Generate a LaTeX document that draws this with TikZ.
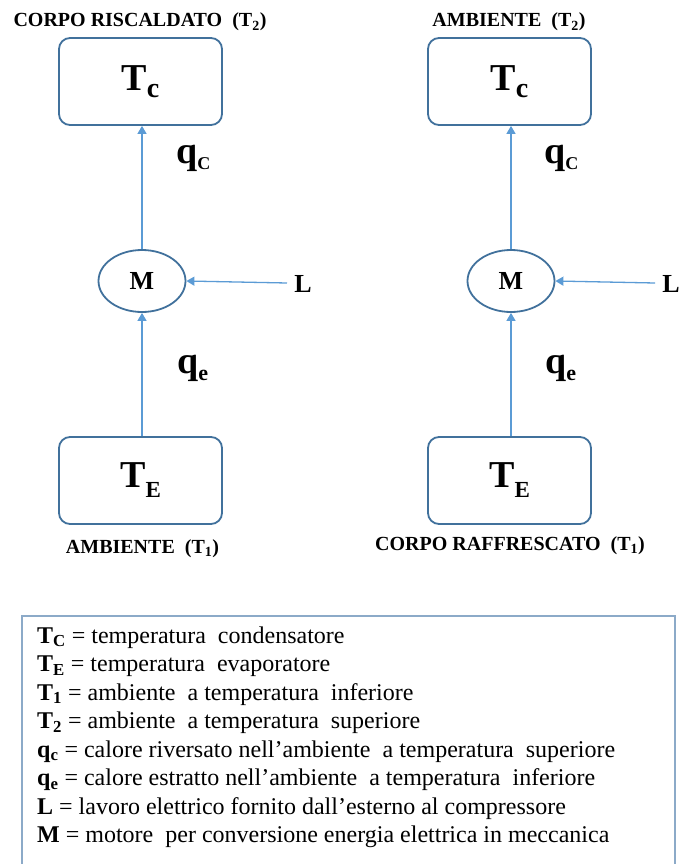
\documentclass[tikz,border=0pt]{standalone}
\usepackage{fontspec}
\setmainfont{Liberation Serif}
\usetikzlibrary{shapes.geometric,arrows.meta}
\definecolor{boxc}{RGB}{65,113,156}
\definecolor{arrc}{RGB}{91,155,213}
\definecolor{legc}{RGB}{140,170,200}
\tikzset{
 tbox/.style={draw=boxc, line width=1.8pt, rounded corners=11pt, minimum width=163pt, minimum height=87pt, inner sep=0pt, font=\fontsize{38}{40}\selectfont\bfseries},
 mell/.style={draw=boxc, line width=1.8pt, ellipse, minimum width=87pt, minimum height=62pt, inner sep=0pt, font=\fontsize{26}{28}\selectfont\bfseries},
 flow/.style={draw=arrc, line width=1.3pt, -{Triangle[length=8pt,width=9pt]}},
 ttl/.style={font=\fontsize{20}{22}\selectfont\bfseries, inner sep=0pt, anchor=base},
 qlab/.style={font=\fontsize{38}{40}\selectfont\bfseries, inner sep=0pt, anchor=base west},
 llab/.style={font=\fontsize{26}{28}\selectfont\bfseries, inner sep=0pt},
 leg/.style={font=\fontsize{24}{26}\selectfont, inner sep=0pt, anchor=base west},
}
\newcommand\lowsub[3]{\raisebox{-#1pt}{\fontsize{#2}{#2}\selectfont #3}}
\begin{document}
\begin{tikzpicture}[x=1pt,y=-1pt]
\useasboundingbox (0,0) rectangle (680,864);
\clip (0,0) rectangle (680,864);
% titles
\node[ttl] (t1) at (140,27) {CORPO RISCALDATO\ \ (T\textsubscript{2})};
\node[ttl] (t2) at (509,27) {AMBIENTE\ \ (T\textsubscript{2})};
\node[ttl] (b1) at (142.5,553) {AMBIENTE\ \ (T\textsubscript{1})};
\node[ttl] (b2) at (510,550) {CORPO RAFFRESCATO\ \ (T\textsubscript{1})};
% boxes
\node[tbox] (tc1) at (140.5,81.5) {T\lowsub{7}{28}{c}};
\node[tbox] (tc2) at (509.5,81.5) {T\lowsub{7}{28}{c}};
\node[tbox] (te1) at (140.5,480.5) {T\lowsub{10}{23}{E}};
\node[tbox] (te2) at (509.5,480.5) {T\lowsub{10}{23}{E}};
% motors
\node[mell] (m1) at (142,281) {M};
\node[mell] (m2) at (511,281) {M};
% L labels
\node[llab] (l1) at (303,283.5) {L};
\node[llab] (l2) at (671,283.5) {L};
\coordinate (ls1) at (287,283);
\coordinate (ls2) at (655,283);
% q labels
\node[qlab] (qc1) at (176,163) {q\lowsub{6}{18}{C}};
\node[qlab] (qc2) at (544,163) {q\lowsub{6}{18}{C}};
\node[qlab] (qe1) at (177,373) {q\lowsub{7}{22}{e}};
\node[qlab] (qe2) at (545,373) {q\lowsub{7}{22}{e}};
% arrows
\draw[flow] (m1.north) -- (m1.north |- tc1.south);
\draw[flow] (m2.north) -- (m2.north |- tc2.south);
\draw[flow] (m1.south |- te1.north) -- (m1.south);
\draw[flow] (m2.south |- te2.north) -- (m2.south);
\draw[flow] (ls1) -- (m1.east);
\draw[flow] (ls2) -- (m2.east);
% legend box
\coordinate (lg1) at (22,870);
\coordinate (lg2) at (22,616);
\coordinate (lg3) at (675,616);
\coordinate (lg4) at (675,870);
\draw[legc, line width=1.5pt] (lg1) -- (lg2) -- (lg3) -- (lg4);
\node[leg] (e1) at (37,643) {\textbf{T}\textsubscript{\textbf{C}} = temperatura\ \ condensatore};
\node[leg] (e2) at (37,671.5) {\textbf{T}\textsubscript{\textbf{E}} = temperatura\ \ evaporatore};
\node[leg] (e3) at (37,700) {\textbf{T}\textsubscript{\textbf{1}} = ambiente\ \ a temperatura\ \ inferiore};
\node[leg] (e4) at (37,728.5) {\textbf{T}\textsubscript{\textbf{2}} = ambiente\ \ a temperatura\ \ superiore};
\node[leg] (e5) at (37,757) {\textbf{q}\textsubscript{\textbf{c}} = calore riversato nell’ambiente\ \ a temperatura\ \ superiore};
\node[leg] (e6) at (37,785.5) {\textbf{q}\textsubscript{\textbf{e}} = calore estratto nell’ambiente\ \ a temperatura\ \ inferiore};
\node[leg] (e7) at (37,814) {\textbf{L} = lavoro elettrico fornito dall’esterno al compressore};
\node[leg] (e8) at (37,842.5) {\textbf{M} = motore\ \ per conversione energia elettrica in meccanica};
\end{tikzpicture}
\end{document}
